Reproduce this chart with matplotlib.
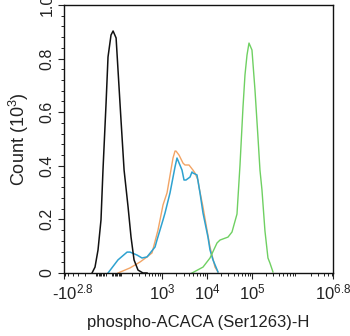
import numpy as np
import matplotlib
matplotlib.use("Agg")
import matplotlib.pyplot as plt
import matplotlib.transforms as mtransforms

plt.rcParams['font.family'] = ['Liberation Sans', 'DejaVu Sans']
plt.rcParams['mathtext.fontset'] = 'custom'
plt.rcParams['mathtext.rm'] = 'Liberation Sans'
plt.rcParams['mathtext.it'] = 'Liberation Sans'

# Histogram traces: fluorescence intensity vs count (x10^3)
isotype_x = [-124, -98, -74, -52, -38, -17, -4, 16, 30, 51, 65, 88, 114, 152, 184, 221, 278, 366, 455]
isotype_y = [0.0, 0.022, 0.086, 0.198, 0.384, 0.634, 0.806, 0.888, 0.903, 0.877, 0.757, 0.571,
             0.384, 0.246, 0.134, 0.049, 0.011, 0.0, 0.0]

sample_a_x = [-4, 65, 142, 173, 263, 347, 455, 693, 767, 1048, 1162, 1503, 1942, 2150, 2780,
              3080, 3410, 4186, 4630, 4870, 5980, 6980, 8140, 10500, 11650, 13570, 17500]
sample_a_y = [0.0, 0.049, 0.078, 0.078, 0.067, 0.056, 0.060, 0.097, 0.123, 0.198, 0.224, 0.299,
              0.396, 0.429, 0.384, 0.347, 0.347, 0.358, 0.377, 0.373, 0.366, 0.299, 0.224, 0.134,
              0.086, 0.049, 0.004]

sample_b_x = [65, 173, 311, 455, 592, 808, 1048, 1288, 1751, 1942, 2044, 2385, 2925, 3240, 3980,
              4870, 5400, 6300, 6630, 8140, 8570, 11650, 15040, 17500]
sample_b_y = [0.0, 0.019, 0.041, 0.060, 0.075, 0.160, 0.254, 0.299, 0.429, 0.455, 0.455, 0.440,
              0.410, 0.403, 0.403, 0.384, 0.373, 0.347, 0.321, 0.246, 0.224, 0.097, 0.022, 0.004]

positive_x = [4630, 8140, 11650, 16670, 19440, 29270, 35900, 46360, 54080, 63030, 69780, 77350,
              85670, 99780, 116400, 135600, 150300, 166400, 193900, 226200, 250500, 292100]
positive_y = [0.0, 0.022, 0.056, 0.112, 0.123, 0.134, 0.153, 0.220, 0.403, 0.619, 0.739, 0.813,
              0.858, 0.832, 0.683, 0.507, 0.384, 0.310, 0.157, 0.056, 0.037, 0.004]

x_ticks = [-10**2.8, 1e3, 1e4, 1e5, 10**6.8]
x_tick_labels = ['-10$^{2.8}$', '10$^{3}$', '10$^{4}$', '10$^{5}$', '10$^{6.8}$']
y_ticks = [0, 0.2, 0.4, 0.6, 0.8, 1.0]
y_tick_labels = ['0', '0.2', '0.4', '0.6', '0.8', '1.0']

fig = plt.figure(figsize=(3.5, 3.36), dpi=100)
ax = fig.add_axes([64 / 350, 1 - 273 / 336, (333 - 64) / 350, (273 - 5) / 336])

ax.plot(sample_b_x, sample_b_y, color='#f2a465', lw=1.0)
ax.plot(sample_a_x, sample_a_y, color='#2ea2d0', lw=1.1)
ax.plot(positive_x, positive_y, color='#6fd062', lw=1.0)
ax.plot(isotype_x, isotype_y, color='#111111', lw=1.1)

ax.set_xscale('asinh', linear_width=130)
ax.set_xlim(-10**2.8, 10**6.8)
ax.set_ylim(0, 1.0)

ax.set_xticks(x_ticks)
ax.set_xticklabels(x_tick_labels)
minor = []
for n in range(1, 7):
    for k in range(2, 10):
        v = k * 10**n
        if v < 10**6.8:
            minor.append(v)
        if v < 10**2.8:
            minor.append(-v)
ax.set_xticks(minor, minor=True)

ax.set_yticks(y_ticks)
ax.set_yticklabels(y_tick_labels, rotation=90, va='center')
ax.set_yticks(np.arange(0, 1.0, 0.04), minor=True)

ax.tick_params(axis='both', which='major', direction='out', length=4, width=0.8,
               colors='#222222')
ax.tick_params(axis='x', which='major', labelsize=12, pad=3)
ax.tick_params(axis='y', which='major', labelsize=11.5, pad=3)
ax.tick_params(axis='both', which='minor', direction='out', length=2, width=0.6)

# nudge the leftmost x label inward so it sits inside the figure
first = ax.get_xticklabels()[0]
first.set_transform(first.get_transform() +
                    mtransforms.ScaledTranslation(9 / 100, 0, fig.dpi_scale_trans))

for s in ax.spines.values():
    s.set_linewidth(1.0)
    s.set_color('#111111')

ax.set_xlabel('phospho-ACACA (Ser1263)-H', fontsize=12, color='#222222', labelpad=9)
ax.set_ylabel('Count (10$^{3}$)', fontsize=13, color='#222222', labelpad=6)

fig.savefig('out.png', dpi=100)
